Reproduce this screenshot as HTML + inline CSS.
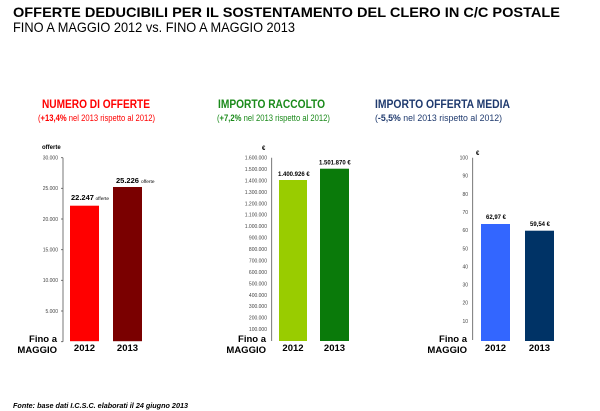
<!DOCTYPE html>
<html><head><meta charset="utf-8"><style>
html,body{margin:0;padding:0;background:#fff}
svg{display:block;font-family:"Liberation Sans",sans-serif}
</style></head><body>
<svg width="600" height="411" viewBox="0 0 600 411">
<text x="13" y="17" font-size="14" font-weight="bold" textLength="547" lengthAdjust="spacingAndGlyphs">OFFERTE DEDUCIBILI PER IL SOSTENTAMENTO DEL CLERO IN C/C POSTALE</text>
<text x="13" y="32" font-size="14" textLength="282" lengthAdjust="spacingAndGlyphs">FINO A MAGGIO 2012 vs. FINO A MAGGIO 2013</text>

<text x="42" y="108" font-size="12" font-weight="bold" fill="#ff0000" textLength="108" lengthAdjust="spacingAndGlyphs">NUMERO DI OFFERTE</text>
<text x="38" y="121" font-size="9" fill="#ff0000" textLength="117" lengthAdjust="spacingAndGlyphs">(<tspan font-weight="bold">+13,4%</tspan> nel 2013 rispetto al 2012)</text>
<text x="218" y="108" font-size="12" font-weight="bold" fill="#1a8a1a" textLength="107" lengthAdjust="spacingAndGlyphs">IMPORTO RACCOLTO</text>
<text x="217" y="121" font-size="9" fill="#1a8a1a" textLength="113" lengthAdjust="spacingAndGlyphs">(<tspan font-weight="bold">+7,2%</tspan> nel 2013 rispetto al 2012)</text>
<text x="375" y="108" font-size="12" font-weight="bold" fill="#1f3a6e" textLength="135" lengthAdjust="spacingAndGlyphs">IMPORTO OFFERTA MEDIA</text>
<text x="375" y="121" font-size="9" fill="#1f3a6e" textLength="127" lengthAdjust="spacingAndGlyphs">(<tspan font-weight="bold">-5,5%</tspan> nel 2013 rispetto al 2012)</text>

<g font-size="5" fill="#444" text-anchor="end">
<!-- chart1 ticks -->
<text x="58" y="159.5">30.000</text><text x="58" y="190">25.000</text><text x="58" y="221">20.000</text>
<text x="58" y="251.5">15.000</text><text x="58" y="282">10.000</text><text x="58" y="313">5.000</text>
</g>
<line x1="63" y1="157.7" x2="63" y2="341.7" stroke="#555" stroke-width="0.8"/>
<g stroke="#555" stroke-width="0.8">
<line x1="61" y1="157.7" x2="63" y2="157.7"/><line x1="61" y1="188.3" x2="63" y2="188.3"/><line x1="61" y1="219" x2="63" y2="219"/>
<line x1="61" y1="249.7" x2="63" y2="249.7"/><line x1="61" y1="280.3" x2="63" y2="280.3"/><line x1="61" y1="311" x2="63" y2="311"/><line x1="61" y1="341.7" x2="63" y2="341.7"/>
</g>
<text x="42" y="149" font-size="6" font-weight="bold">offerte</text>
<rect x="70" y="205.7" width="29" height="135.5" fill="#ff0000"/>
<rect x="113" y="187" width="29" height="154.2" fill="#7a0000"/>
<text x="71" y="200" font-size="7.5" font-weight="bold">22.247</text><text x="95.5" y="200" font-size="4.8">offerte</text>
<text x="116" y="183" font-size="7.5" font-weight="bold">25.226</text><text x="141" y="183" font-size="4.8">offerte</text>

<!-- chart2 -->
<g font-size="5" fill="#444" text-anchor="end">
<text x="267" y="159.5">1.600.000</text><text x="267" y="171">1.500.000</text><text x="267" y="182.4">1.400.000</text>
<text x="267" y="193.8">1.300.000</text><text x="267" y="205.3">1.200.000</text><text x="267" y="216.7">1.100.000</text>
<text x="267" y="228.2">1.000.000</text><text x="267" y="239.6">900.000</text><text x="267" y="251">800.000</text>
<text x="267" y="262.5">700.000</text><text x="267" y="273.9">600.000</text><text x="267" y="285.4">500.000</text>
<text x="267" y="296.8">400.000</text><text x="267" y="308.2">300.000</text><text x="267" y="319.7">200.000</text>
<text x="267" y="331.1">100.000</text>
</g>
<line x1="271.7" y1="157.7" x2="271.7" y2="341" stroke="#555" stroke-width="0.8"/>
<text x="262" y="150" font-size="6" font-weight="bold">€</text>
<rect x="279" y="180" width="28" height="161" fill="#99cc00"/>
<rect x="320" y="168.7" width="29" height="172.3" fill="#0a7a0a"/>
<text x="278" y="176" font-size="6" font-weight="bold">1.400.926 €</text>
<text x="319" y="164.5" font-size="6" font-weight="bold">1.501.870 €</text>

<!-- chart3 -->
<g font-size="5" fill="#444" text-anchor="end">
<text x="468" y="159.5">100</text><text x="468" y="177.7">90</text><text x="468" y="195.8">80</text>
<text x="468" y="214">70</text><text x="468" y="232.1">60</text><text x="468" y="250.3">50</text>
<text x="468" y="268.4">40</text><text x="468" y="286.6">30</text><text x="468" y="304.7">20</text><text x="468" y="322.9">10</text>
</g>
<line x1="472.7" y1="157.7" x2="472.7" y2="340" stroke="#555" stroke-width="0.8"/>
<text x="476" y="155" font-size="6" font-weight="bold">€</text>
<rect x="481" y="224" width="29" height="117" fill="#3366ff"/>
<rect x="525" y="230.7" width="29" height="110.3" fill="#003366"/>
<text x="486" y="219" font-size="6" font-weight="bold">62,97 €</text>
<text x="530" y="226" font-size="6" font-weight="bold">59,54 €</text>

<!-- x labels -->
<g font-size="9.5" font-weight="bold" text-anchor="end">
<text x="57" y="342">Fino a</text><text x="57" y="353">MAGGIO</text>
<text x="266" y="342">Fino a</text><text x="266" y="353">MAGGIO</text>
<text x="467" y="342">Fino a</text><text x="467" y="353">MAGGIO</text>
</g>
<g font-size="9.5" font-weight="bold" text-anchor="middle">
<text x="84.5" y="351">2012</text><text x="127.5" y="351">2013</text>
<text x="293" y="351">2012</text><text x="334.5" y="351">2013</text>
<text x="495.5" y="351">2012</text><text x="539.5" y="351">2013</text>
</g>

<text x="13" y="408" font-size="7" font-weight="bold" font-style="italic" textLength="175" lengthAdjust="spacingAndGlyphs">Fonte: base dati I.C.S.C. elaborati il 24 giugno 2013</text>
</svg>
</body></html>
